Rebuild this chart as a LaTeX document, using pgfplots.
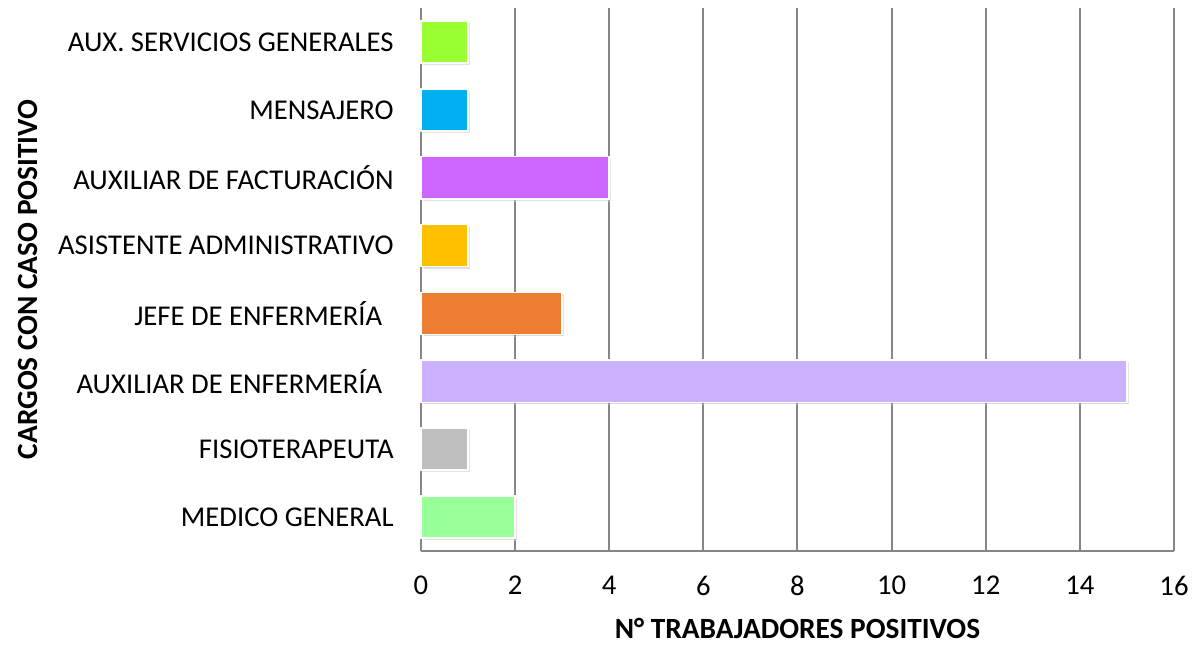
\documentclass[border=0pt]{standalone}
\usepackage{pgfplots}
\pgfplotsset{compat=1.18}
\usepackage{fontspec}
\setmainfont{Carlito}
\usetikzlibrary{shadows}
\definecolor{cA}{HTML}{99FF99}
\definecolor{cB}{HTML}{BFBFBF}
\definecolor{cC}{HTML}{CBB1FF}
\definecolor{cD}{HTML}{ED7D31}
\definecolor{cE}{HTML}{FFC000}
\definecolor{cF}{HTML}{CC66FF}
\definecolor{cG}{HTML}{00B0F0}
\definecolor{cH}{HTML}{99FF33}
\definecolor{gridc}{HTML}{868686}
\begin{document}
\begin{tikzpicture}[x=1pt,y=1pt]
\path[use as bounding box] (-421*0.75,-94*0.75) rectangle (782*0.75,551*0.75);
\begin{axis}[
  at={(0,0)}, anchor=south west,
  scale only axis,
  width=564.75pt, height=407.25pt,
  xbar, bar shift=0pt, bar width=0.62,
  xmin=0, xmax=16, ymin=-0.5, ymax=7.5,
  xtick={0,2,...,16},
  ytick={0,...,7},
  yticklabels={MEDICO GENERAL, FISIOTERAPEUTA, AUXILIAR DE ENFERMERÍA\ \,, JEFE DE ENFERMERÍA\ \,, ASISTENTE ADMINISTRATIVO, AUXILIAR DE FACTURACIÓN, MENSAJERO, AUX. SERVICIOS GENERALES},
  axis x line*=bottom, axis y line*=left,
  axis line style={gridc, line width=1.5pt, -},
  xmajorgrids, major grid style={gridc, line width=1.5pt},
  major tick length=0pt,
  /pgf/number format/assume math mode=true,
  tick label style={font=\fontsize{21.5}{26}\selectfont, black},
  xticklabel style={yshift=-15pt},
  yticklabel style={xshift=-17pt},
  xlabel={\textbf{N° TRABAJADORES POSITIVOS}},
  ylabel={\textbf{CARGOS CON CASO POSITIVO}},
  label style={font=\fontsize{22}{26}\selectfont, inner sep=1pt},
  xlabel style={at={(axis description cs:0.5,0)}, anchor=center, yshift=-58pt},
  ylabel style={at={(axis description cs:-0.522,0.5)}, anchor=center},
  every axis plot/.append style={draw=white, line width=1.2pt, drop shadow={shadow xshift=1.5pt, shadow yshift=-1.5pt, opacity=0.3}},
  clip=false,
]
\addplot[fill=cA] coordinates {(2,0)};
\addplot[fill=cB] coordinates {(1,1)};
\addplot[fill=cC] coordinates {(15,2)};
\addplot[fill=cD] coordinates {(3,3)};
\addplot[fill=cE] coordinates {(1,4)};
\addplot[fill=cF] coordinates {(4,5)};
\addplot[fill=cG] coordinates {(1,6)};
\addplot[fill=cH] coordinates {(1,7)};
\end{axis}
\end{tikzpicture}
\end{document}
